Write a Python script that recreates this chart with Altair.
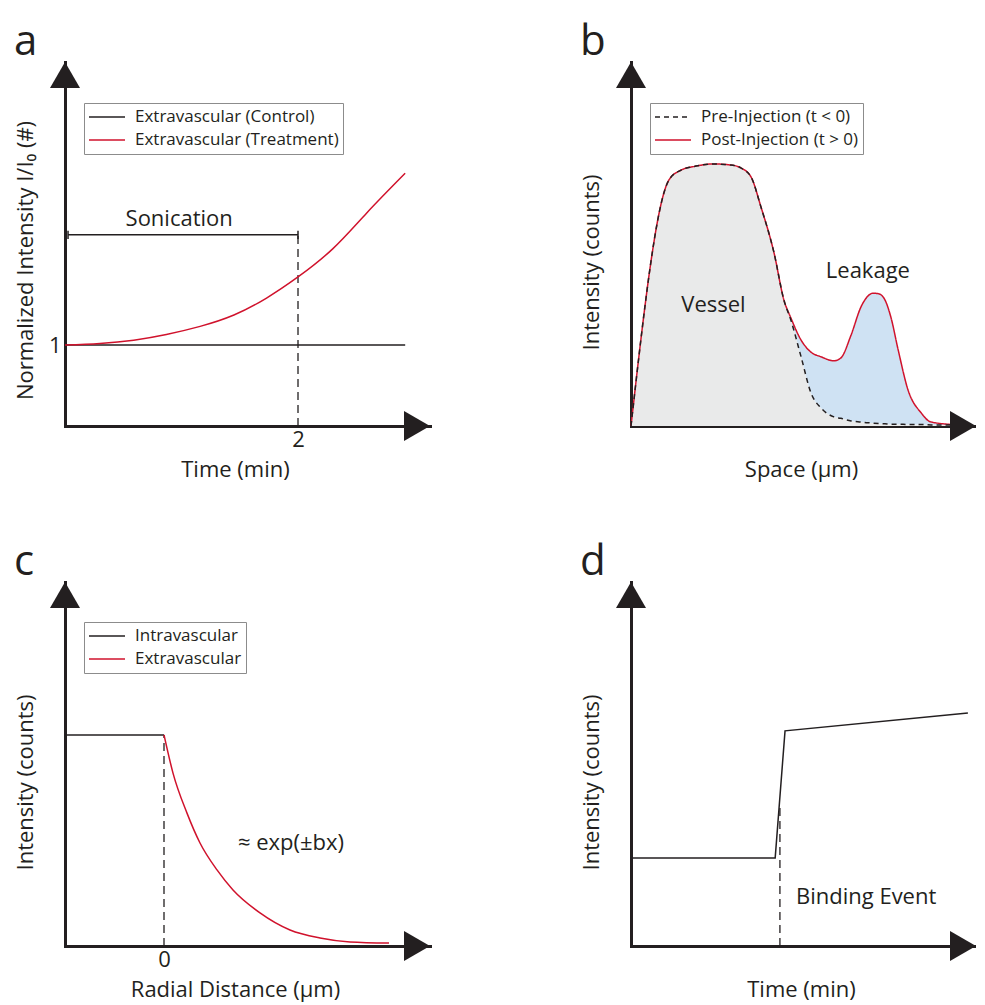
import altair as alt
import pandas as pd

FONT = "Open Sans"
INK = "#231f20"
RED = "#d0122c"
GREY_FILL = "#e9eaea"
BLUE_FILL = "#cfe2f3"
FS = 22
W1, W2, H = 365, 345, 364

# ---------------- panel a ----------------
a_x_max, a_y_max = 3.133, 4.494
a_names = ["Extravascular (Control)", "Extravascular (Treatment)"]
a_time = [0.0, 0.30, 0.59, 0.87, 1.16, 1.45, 1.73, 2.00, 2.30, 2.59, 2.92]
a_treatment = [1.00, 1.02, 1.06, 1.13, 1.23, 1.37, 1.58, 1.84, 2.19, 2.63, 3.12]
a_control_time = [0.0, 2.92]
a_control = [1.0, 1.0]
a_marker_time = 2.0
a_sonication = [0.026, 2.0]
a_sonication_level = 2.36
a_text = ["Sonication"]
a_text_x = [0.98]
a_text_y = [2.56]

# ---------------- panel b ----------------
b_x_max, b_y_max = 9.452, 10.0
b_names = ["Pre-Injection (t < 0)", "Post-Injection (t > 0)"]
b_space = [0.0, 1.04, 1.37, 1.78, 2.25, 2.74, 3.01, 3.29, 3.56, 3.92, 4.19, 4.38, 4.66,
           4.93, 5.21, 5.56, 5.75, 6.03, 6.30, 6.49, 6.63, 6.79, 6.96, 7.12, 7.32, 7.59,
           7.95, 8.22, 8.99]
b_pre = [0.0, 6.76, 7.03, 7.14, 7.20, 7.17, 7.09, 6.84, 6.02, 4.75, 3.46, 2.91, 1.90,
         0.91, 0.49, 0.25, 0.21, 0.14, 0.11, 0.09, 0.08, 0.07, 0.06, 0.05, 0.05, 0.04,
         0.04, 0.03, 0.03]
b_post = [0.0, 6.76, 7.03, 7.14, 7.20, 7.17, 7.09, 6.84, 6.02, 4.75, 3.46, 2.97, 2.36,
          2.03, 1.90, 1.79, 1.87, 2.50, 3.27, 3.57, 3.65, 3.63, 3.46, 2.99, 2.09, 0.99,
          0.36, 0.11, 0.03]
b_text = ["Vessel", "Leakage"]
b_text_x = [2.26, 6.49]
b_text_y = [3.32, 4.26]

# ---------------- panel c ----------------
c_x_min, c_x_max, c_y_max = -1.98, 5.32, 10.0
c_names = ["Intravascular", "Extravascular"]
c_intra_x = [-1.98, 0.0]
c_intra_y = [5.80, 5.80]
c_extra_x = [0.0, 0.18, 0.46, 0.72, 1.06, 1.38, 1.92, 2.52, 3.12, 3.72, 4.50]
c_extra_y = [5.80, 4.75, 3.65, 2.83, 2.09, 1.54, 0.91, 0.44, 0.22, 0.11, 0.08]
c_text = ["\u2248 exp(\u00b1bx)"]
c_text_x = [2.54]
c_text_y = [2.83]

# ---------------- panel d ----------------
d_x_max, d_y_max = 9.452, 10.0
d_time = [0.0, 3.95, 4.22, 9.23]
d_signal = [2.42, 2.42, 5.91, 6.40]
d_event_time = 4.08
d_event_top = 3.82
d_text = ["Binding Event"]
d_text_x = [4.52]
d_text_y = [1.35]


def x_axis(title, values=None):
    kw = dict(title=title, grid=False, ticks=False, domainWidth=3, domainColor=INK,
              domainCap="square", labelFont=FONT, labelFontSize=FS, labelColor=INK,
              labelPadding=3, titleFont=FONT, titleFontSize=FS, titleFontWeight="normal",
              titleColor=INK, titleX=170, titleY=43, titleBaseline="middle",
              titleAlign="center", titleAngle=0)
    if values:
        kw.update(values=values, labels=True, format=".0f")
    else:
        kw.update(labels=False)
    return alt.Axis(**kw)


def y_axis(title, title_y, values=None):
    kw = dict(title=title, grid=False, ticks=False, domainWidth=3, domainColor=INK,
              domainCap="square", labelFont=FONT, labelFontSize=FS, labelColor=INK,
              labelPadding=4, titleFont=FONT, titleFontSize=FS, titleFontWeight="normal",
              titleColor=INK, titleX=-40, titleY=title_y, titleBaseline="middle",
              titleAlign="center", titleAngle=-90)
    if values:
        kw.update(values=values, labels=True, format=".0f")
    else:
        kw.update(labels=False)
    return alt.Axis(**kw)


def legend(lx, ly):
    return alt.Legend(title=None, orient="none", legendX=lx, legendY=ly,
                      direction="vertical", strokeColor="#8c8c8c", fillColor="white",
                      padding=4, labelFont=FONT, labelFontSize=17, labelColor=INK,
                      symbolType="stroke", symbolSize=1296, symbolStrokeWidth=1.5,
                      labelOffset=9, rowPadding=3, clipHeight=20, labelLimit=400)


def arrows(X, Y, x0, x1, y0, y1):
    up = pd.DataFrame({"x": [x0], "y": [y1]})
    right = pd.DataFrame({"x": [x1], "y": [y0]})
    l1 = alt.Chart(up).mark_point(shape="triangle-up", size=900, filled=True, color=INK,
                                  opacity=1, strokeWidth=0, yOffset=13).encode(x=X, y=Y)
    l2 = alt.Chart(right).mark_point(shape="triangle-right", size=900, filled=True, color=INK,
                                     opacity=1, strokeWidth=0, xOffset=-13).encode(x=X, y=Y)
    return [l1, l2]


def texts(X, Y, labels, xs, ys, align="center"):
    df = pd.DataFrame({"x": xs, "y": ys, "label": labels})
    return alt.Chart(df).mark_text(font=FONT, fontSize=FS, color=INK, align=align,
                                   baseline="middle").encode(x=X, y=Y, text="label:N")


def title(letter):
    return alt.TitleParams(letter, anchor="start", frame="bounds", fontSize=42, font=FONT,
                           fontWeight="normal", color=INK, baseline="alphabetic", offset=-35)


dash = [8, 5]

# ---- build a ----
Xa = alt.X("x:Q", scale=alt.Scale(domain=[0, a_x_max], nice=False, zero=False),
           axis=x_axis("Time (min)", [2]))
Ya = alt.Y("y:Q", scale=alt.Scale(domain=[0, a_y_max], nice=False, zero=False),
           axis=y_axis("Normalized Intensity I/I\u2080 (#)", 198, [1]))
a_color = alt.Color("s:N", scale=alt.Scale(domain=a_names, range=[INK, RED]),
                    legend=legend(19, 41))
df_ctrl = pd.DataFrame({"x": a_control_time, "y": a_control, "s": a_names[0]})
df_trt = pd.DataFrame({"x": a_time, "y": a_treatment, "s": a_names[1]})
a_layers = [
    alt.Chart(pd.DataFrame({"x": [a_marker_time], "y": [0.0], "y2": [a_sonication_level]}))
    .mark_rule(color=INK, strokeWidth=1.3, strokeDash=dash)
    .encode(x=Xa, y=Ya, y2="y2:Q"),
    alt.Chart(df_ctrl).mark_line(strokeWidth=1.5).encode(x=Xa, y=Ya, color=a_color),
    alt.Chart(df_trt).mark_line(strokeWidth=1.5, interpolate="natural")
    .encode(x=Xa, y=Ya, color=a_color),
    alt.Chart(pd.DataFrame({"x": [a_sonication[0]], "x2": [a_sonication[1]],
                            "y": [a_sonication_level]}))
    .mark_rule(color=INK, strokeWidth=1.5).encode(x=Xa, x2="x2:Q", y=Ya),
    alt.Chart(pd.DataFrame({"x": a_sonication, "y": [a_sonication_level - 0.05] * 2,
                            "y2": [a_sonication_level + 0.05] * 2}))
    .mark_rule(color=INK, strokeWidth=1.5).encode(x=Xa, y=Ya, y2="y2:Q"),
    texts(Xa, Ya, a_text, a_text_x, a_text_y),
] + arrows(Xa, Ya, 0, a_x_max, 0, a_y_max)
panel_a = alt.layer(*a_layers).properties(width=W1, height=H, title=title("a"))

# ---- build b ----
Xb = alt.X("x:Q", scale=alt.Scale(domain=[0, b_x_max], nice=False, zero=False),
           axis=x_axis("Space (\u03bcm)"))
Yb = alt.Y("y:Q", scale=alt.Scale(domain=[0, b_y_max], nice=False, zero=False),
           axis=y_axis("Intensity (counts)", 200))
b_leg = legend(19, 41)
b_color = alt.Color("s:N", scale=alt.Scale(domain=b_names, range=[INK, RED]), legend=b_leg)
b_dash = alt.StrokeDash("s:N", scale=alt.Scale(domain=b_names, range=[[5, 4], [1, 0]]),
                        legend=b_leg)
df_wide = pd.DataFrame({"x": b_space, "pre": b_pre, "post": b_post})
df_pre = pd.DataFrame({"x": b_space, "y": b_pre, "s": b_names[0]})
df_post = pd.DataFrame({"x": b_space, "y": b_post, "s": b_names[1]})
Yb_pre = alt.Y("pre:Q", scale=alt.Scale(domain=[0, b_y_max], nice=False, zero=False),
               axis=y_axis("Intensity (counts)", 200))
Yb_post = alt.Y("post:Q", scale=alt.Scale(domain=[0, b_y_max], nice=False, zero=False),
                axis=y_axis("Intensity (counts)", 200))
b_layers = [
    alt.Chart(df_wide).mark_area(color=GREY_FILL, interpolate="monotone", opacity=1)
    .encode(x=Xb, y=Yb_pre, y2=alt.datum(0)),
    alt.Chart(df_wide).mark_area(color=BLUE_FILL, interpolate="monotone", opacity=1)
    .encode(x=Xb, y=Yb_post, y2="pre:Q"),
    alt.Chart(df_post).mark_line(strokeWidth=1.5, interpolate="monotone")
    .encode(x=Xb, y=Yb, color=b_color, strokeDash=b_dash),
    alt.Chart(df_pre).mark_line(strokeWidth=1.5, interpolate="monotone")
    .encode(x=Xb, y=Yb, color=b_color, strokeDash=b_dash),
    texts(Xb, Yb, b_text, b_text_x, b_text_y),
] + arrows(Xb, Yb, 0, b_x_max, 0, b_y_max)
panel_b = alt.layer(*b_layers).properties(width=W2, height=H, title=title("b"))

# ---- build c ----
Xc = alt.X("x:Q", scale=alt.Scale(domain=[c_x_min, c_x_max], nice=False, zero=False),
           axis=x_axis("Radial Distance (\u03bcm)", [0]))
Yc = alt.Y("y:Q", scale=alt.Scale(domain=[0, c_y_max], nice=False, zero=False),
           axis=y_axis("Intensity (counts)", 200))
c_color = alt.Color("s:N", scale=alt.Scale(domain=c_names, range=[INK, RED]),
                    legend=legend(19, 40))
df_intra = pd.DataFrame({"x": c_intra_x, "y": c_intra_y, "s": c_names[0]})
df_extra = pd.DataFrame({"x": c_extra_x, "y": c_extra_y, "s": c_names[1]})
c_layers = [
    alt.Chart(pd.DataFrame({"x": [0.0], "y": [0.0], "y2": [c_intra_y[-1]]}))
    .mark_rule(color=INK, strokeWidth=1.3, strokeDash=dash)
    .encode(x=Xc, y=Yc, y2="y2:Q"),
    alt.Chart(df_intra).mark_line(strokeWidth=1.5).encode(x=Xc, y=Yc, color=c_color),
    alt.Chart(df_extra).mark_line(strokeWidth=1.5, interpolate="monotone")
    .encode(x=Xc, y=Yc, color=c_color),
    texts(Xc, Yc, c_text, c_text_x, c_text_y),
] + arrows(Xc, Yc, c_x_min, c_x_max, 0, c_y_max)
panel_c = alt.layer(*c_layers).properties(width=W1, height=H, title=title("c"))

# ---- build d ----
Xd = alt.X("x:Q", scale=alt.Scale(domain=[0, d_x_max], nice=False, zero=False),
           axis=x_axis("Time (min)"))
Yd = alt.Y("y:Q", scale=alt.Scale(domain=[0, d_y_max], nice=False, zero=False),
           axis=y_axis("Intensity (counts)", 200))
d_layers = [
    alt.Chart(pd.DataFrame({"x": [d_event_time], "y": [0.0], "y2": [d_event_top]}))
    .mark_rule(color=INK, strokeWidth=1.3, strokeDash=dash)
    .encode(x=Xd, y=Yd, y2="y2:Q"),
    alt.Chart(pd.DataFrame({"x": d_time, "y": d_signal}))
    .mark_line(color=INK, strokeWidth=1.5).encode(x=Xd, y=Yd),
    texts(Xd, Yd, d_text, d_text_x, d_text_y, align="left"),
] + arrows(Xd, Yd, 0, d_x_max, 0, d_y_max)
panel_d = alt.layer(*d_layers).properties(width=W2, height=H, title=title("d"))

chart = (
    alt.concat(panel_a, panel_b, panel_c, panel_d, columns=2,
               spacing={"row": 61, "column": 150})
    .resolve_scale(color="independent", strokeDash="independent")
    .configure_view(strokeWidth=0)
    .properties(padding={"left": 6, "top": 13, "right": 0, "bottom": 8})
)

chart.save("out.html", embed_options={"renderer": "svg", "actions": False})
